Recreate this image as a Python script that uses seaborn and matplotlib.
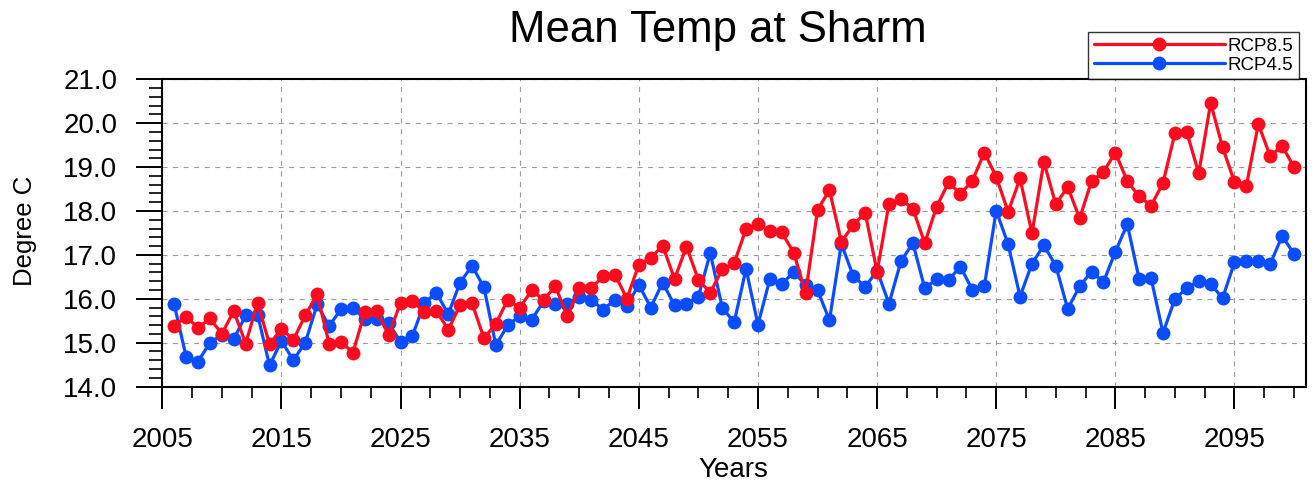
import numpy as np
import pandas as pd
import matplotlib
matplotlib.use("Agg")
import matplotlib.pyplot as plt
import seaborn as sns
from matplotlib.ticker import FixedLocator

years = list(range(2006, 2101))

rcp85 = [15.39, 15.59, 15.34, 15.55, 15.20, 15.72, 14.98, 15.91, 14.96, 15.32,
         15.06, 15.62, 16.10, 14.98, 15.02, 14.77, 15.70, 15.72, 15.17, 15.91,
         15.94, 15.70, 15.73, 15.29, 15.86, 15.90, 15.10, 15.43, 15.98, 15.79,
         16.19, 15.98, 16.28, 15.60, 16.24, 16.24, 16.51, 16.55, 16.00, 16.78,
         16.93, 17.21, 16.45, 17.19, 16.43, 16.14, 16.67, 16.81, 17.59, 17.70,
         17.55, 17.51, 17.05, 16.13, 18.02, 18.48, 17.30, 17.68, 17.96, 16.61,
         18.17, 18.27, 18.05, 17.27, 18.10, 18.65, 18.39, 18.69, 19.33, 18.78,
         17.98, 18.74, 17.49, 19.12, 18.15, 18.55, 17.83, 18.68, 18.89, 19.33,
         18.68, 18.33, 18.12, 18.64, 19.77, 19.79, 18.86, 20.46, 19.45, 18.66,
         18.58, 19.98, 19.25, 19.48, 19.00]

rcp45 = [15.87, 14.68, 14.57, 15.00, 15.18, 15.08, 15.62, 15.64, 14.48, 15.04,
         14.60, 15.00, 15.87, 15.38, 15.76, 15.80, 15.53, 15.53, 15.44, 15.02,
         15.16, 15.90, 16.14, 15.65, 16.37, 16.75, 16.26, 14.94, 15.40, 15.60,
         15.52, 15.94, 15.88, 15.88, 16.05, 15.98, 15.75, 15.98, 15.84, 16.32,
         15.80, 16.37, 15.85, 15.89, 16.05, 17.04, 15.80, 15.46, 16.68, 15.41,
         16.45, 16.34, 16.60, 16.32, 16.20, 15.51, 17.25, 16.52, 16.27, 16.64,
         15.89, 16.85, 17.27, 16.24, 16.45, 16.43, 16.73, 16.20, 16.28, 18.01,
         17.24, 16.05, 16.80, 17.22, 16.75, 15.77, 16.28, 16.62, 16.38, 17.07,
         17.70, 16.45, 16.47, 15.22, 16.00, 16.24, 16.41, 16.34, 16.01, 16.83,
         16.86, 16.87, 16.79, 17.43, 17.02]

series_names = ["RCP8.5", "RCP4.5"]
series_colors = {"RCP8.5": "#ff0a1e", "RCP4.5": "#0a4cff"}
xtick_values = [2005, 2015, 2025, 2035, 2045, 2055, 2065, 2075, 2085, 2095]
ytick_values = [14.0, 15.0, 16.0, 17.0, 18.0, 19.0, 20.0, 21.0]
title = "Mean Temp at Sharm"
xlabel = "Years"
ylabel = "Degree C"

sns.set_theme(style="white")
plt.rcParams["font.family"] = ["Liberation Sans", "DejaVu Sans"]
plt.rcParams["text.color"] = "black"
plt.rcParams["axes.labelcolor"] = "black"
plt.rcParams["xtick.color"] = "black"
plt.rcParams["ytick.color"] = "black"

df = pd.DataFrame({
    "Year": years * 2,
    "Temp": rcp85 + rcp45,
    "Scenario": ["RCP8.5"] * len(years) + ["RCP4.5"] * len(years),
})

fig = plt.figure(figsize=(13.12, 4.86), dpi=100)
ax = fig.add_axes([0.1237, 0.2047, 0.8717, 0.6321])

# draw blue first, red on top
for name in ["RCP4.5", "RCP8.5"]:
    sub = df[df["Scenario"] == name]
    sns.lineplot(data=sub, x="Year", y="Temp", ax=ax, color=series_colors[name],
                 marker="o", markersize=10, markeredgewidth=0, linewidth=2.3,
                 label=name, legend=False)

ax.set_xlim(2005, 2101)
ax.set_ylim(14.0, 21.0)
ax.xaxis.set_major_locator(FixedLocator(xtick_values))
ax.xaxis.set_minor_locator(FixedLocator(np.arange(2005, 2101.01, 2.5)))
ax.set_xticklabels([str(v) for v in xtick_values])
ax.yaxis.set_major_locator(FixedLocator(ytick_values))
ax.yaxis.set_minor_locator(FixedLocator(np.arange(14.0, 21.001, 0.2)))
ax.set_yticklabels([f"{v:.1f}" for v in ytick_values])

ax.tick_params(axis="x", which="major", direction="out", length=16, width=1.4,
               pad=13, labelsize=20, colors="black", bottom=True, top=False)
ax.tick_params(axis="x", which="minor", direction="out", length=8, width=1.2,
               bottom=True, top=False)
ax.tick_params(axis="y", which="major", direction="out", length=18.5, width=1.4,
               pad=14, labelsize=20, colors="black", left=True, right=False)
ax.tick_params(axis="y", which="minor", direction="out", length=9.5, width=1.2,
               left=True, right=False)

for sp in ax.spines.values():
    sp.set_visible(True)
    sp.set_color("black")
    sp.set_linewidth(1.5)

ax.grid(True, which="major", color="#9a9a9a", linestyle=(0, (4.5, 5)), linewidth=0.8)
ax.set_axisbelow(True)

ax.set_xlabel(xlabel, fontsize=20, color="black")
ax.set_ylabel(ylabel, fontsize=18.5, color="black")
ax.xaxis.label.set_va("center")
ax.yaxis.label.set_va("center")
ax.xaxis.set_label_coords(0.499, -0.272)
ax.yaxis.set_label_coords(-0.120, 0.506)

fig.text(718 / 1312, 1 - 30 / 486, title, ha="center", va="center",
         fontsize=31.5, color="black")

handles, labels = ax.get_legend_handles_labels()
order = [labels.index(n) for n in series_names]
leg = ax.legend([handles[i] for i in order], [labels[i] for i in order],
                loc="lower right", bbox_to_anchor=(0.9939, 1.0), borderaxespad=0,
                fontsize=13.5, handlelength=7.0, handletextpad=0.15,
                labelspacing=0.1, borderpad=0.3, numpoints=1,
                frameon=True, fancybox=False, shadow=False, markerscale=1.0)
leg.get_frame().set_edgecolor("black")
leg.get_frame().set_linewidth(1.0)
leg.get_frame().set_facecolor("white")
for t in leg.get_texts():
    t.set_color("black")

fig.savefig("out.png", dpi=100, facecolor="white")
